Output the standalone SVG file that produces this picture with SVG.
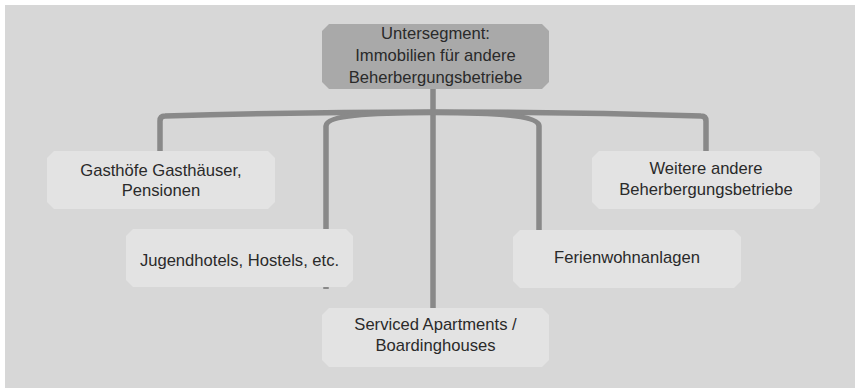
<svg xmlns="http://www.w3.org/2000/svg" width="855" height="388" viewBox="0 0 855 388">
  <style>
    .bg { fill: #d7d7d7; }
    .conn { fill: none; stroke: #898989; stroke-width: 5.5; stroke-linejoin: round; }
    .top { fill: #a9a9a9; }
    .child { fill: #e3e3e3; }
    text { font-family: "Liberation Sans", Arial, sans-serif; font-size: 16.6px; fill: #2a2a2a; text-anchor: middle; }
  </style>
  <rect x="0" y="0" width="855" height="388" fill="#ffffff"/>
  <rect class="bg" x="5" y="5" width="850" height="383"/>
  <g id="connectors">
    <path class="conn" d="M433 60 V310"/>
    <path class="conn" d="M160 151 V121 Q160 116 165 116 Q433 108 701 116 Q706 116 706 121 V151"/>
    <path class="conn" d="M433 112.5 C385 112.5 326 114 326 126 V289"/>
    <path class="conn" d="M433 112.5 C481 112.5 539 114 539 126 V231"/>
  </g>
  <g id="node-top">
    <path class="top" d="M329 24 H542 L549 31 V82 L542 89 H329 L322 82 V31 Z"/>
    <text x="435.5" y="39">Untersegment:</text>
    <text x="435.5" y="61">Immobilien für andere</text>
    <text x="435.5" y="83">Beherbergungsbetriebe</text>
  </g>
  <g id="node-gasthoefe">
    <path class="child" d="M54 151 H268 L275 158 V202 L268 209 H54 L47 202 V158 Z"/>
    <text x="161" y="176">Gasthöfe Gasthäuser,</text>
    <text x="161" y="196">Pensionen</text>
  </g>
  <g id="node-weitere">
    <path class="child" d="M599 151 H813 L820 158 V202 L813 209 H599 L592 202 V158 Z"/>
    <text x="706" y="174">Weitere andere</text>
    <text x="706" y="195">Beherbergungsbetriebe</text>
  </g>
  <g id="node-jugend">
    <path class="child" d="M133 229 H346 L353 236 V280 L346 287 H133 L126 280 V236 Z"/>
    <text x="239.5" y="266">Jugendhotels, Hostels, etc.</text>
  </g>
  <g id="node-ferien">
    <path class="child" d="M520 230 H734 L741 237 V281 L734 288 H520 L513 281 V237 Z"/>
    <text x="627" y="263">Ferienwohnanlagen</text>
  </g>
  <g id="node-serviced">
    <path class="child" d="M329 308 H542 L549 315 V360 L542 367 H329 L322 360 V315 Z"/>
    <text x="435.5" y="330">Serviced Apartments /</text>
    <text x="435.5" y="351">Boardinghouses</text>
  </g>
</svg>
